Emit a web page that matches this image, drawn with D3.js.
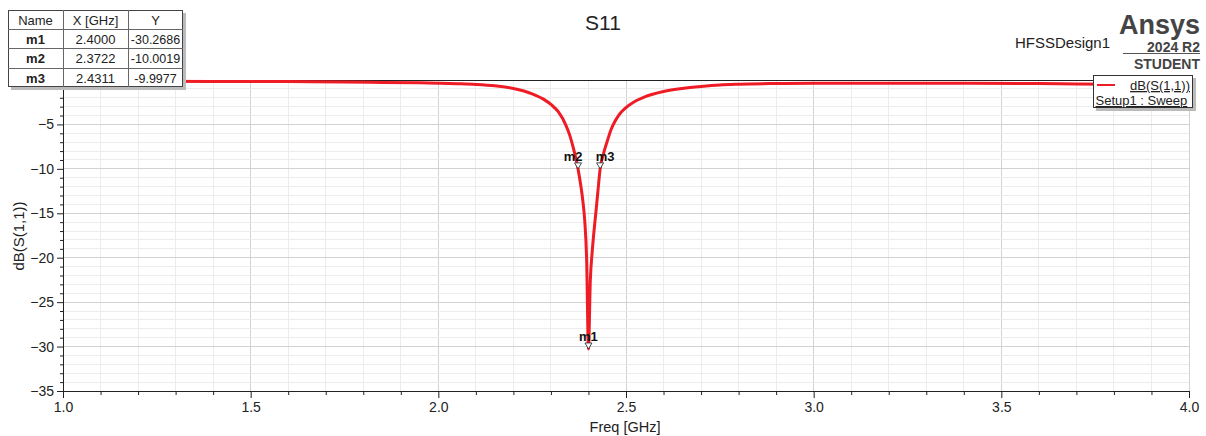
<!DOCTYPE html>
<html><head><meta charset="utf-8">
<script src="https://cdn.jsdelivr.net/npm/d3@7"></script>
<style>
html,body{margin:0;padding:0;background:#fff;}
svg{display:block;font-family:Arial,"Liberation Sans",sans-serif;}
</style></head>
<body><svg id="c" width="1206" height="436"></svg>
<script>
// ---- data ----
const freq = [1.0,1.2,1.4,1.6,1.75,1.85,1.95,2.0,2.05,2.1,2.15,2.2,2.25,2.28,2.3,2.32,2.34,2.35,2.36,2.3722,2.38,2.385,2.39,2.395,2.4,2.405,2.41,2.415,2.42,2.425,2.4311,2.44,2.45,2.46,2.47,2.48,2.5,2.52,2.55,2.6,2.65,2.7,2.75,2.8,2.9,3.0,3.2,3.4,3.6,3.7,3.8,4.0];
const s11 = [-0.15,-0.15,-0.16,-0.18,-0.22,-0.27,-0.32,-0.36,-0.42,-0.50,-0.65,-0.95,-1.55,-2.15,-2.75,-3.6,-5.1,-6.2,-7.7,-10.0019,-12.0,-13.6,-15.8,-20.0,-30.2686,-22.5,-19.3,-16.9,-14.8,-12.6,-9.9977,-8.3,-6.9,-5.6,-4.7,-4.0,-3.1,-2.5,-1.9,-1.3,-0.95,-0.72,-0.55,-0.47,-0.40,-0.37,-0.36,-0.37,-0.40,-0.45,-0.48,-0.50];
const markerNames = ["m1","m2","m3"];
const markerX = [2.4000,2.3722,2.4311];
const markerY = [-30.2686,-10.0019,-9.9977];
const xTicks = [1.0,1.5,2.0,2.5,3.0,3.5,4.0];
const yTicks = [0,-5,-10,-15,-20,-25,-30,-35];

const FONT = "Arial,'Liberation Sans',sans-serif";
const svg = d3.select("#c");
const L=63,R=1189,T=80,B=391;
const x = d3.scaleLinear().domain([1,4]).range([L,R]);
const y = d3.scaleLinear().domain([-35,0]).range([B,T]);

// grid
const g = svg.append("g");
const minorX = d3.range(1.1,4.0,0.1).map(v=>+v.toFixed(1));
const minorY = d3.range(-34,0,1);
g.selectAll(".mx").data(minorX).enter().append("line")
  .attr("x1",d=>x(d)).attr("x2",d=>x(d)).attr("y1",T).attr("y2",B)
  .attr("stroke",d=>xTicks.includes(d)?"#d2d2d2":"#ececec").attr("stroke-width",1)
  .attr("shape-rendering","crispEdges");
g.selectAll(".my").data(minorY).enter().append("line")
  .attr("x1",L).attr("x2",R).attr("y1",d=>y(d)).attr("y2",d=>y(d))
  .attr("stroke",d=>yTicks.includes(d)?"#d2d2d2":"#ececec").attr("stroke-width",1)
  .attr("shape-rendering","crispEdges");
g.append("line").attr("x1",R).attr("x2",R).attr("y1",T).attr("y2",B).attr("stroke","#d2d2d2").attr("shape-rendering","crispEdges");
g.append("line").attr("x1",L).attr("x2",R).attr("y1",T).attr("y2",T).attr("stroke","#222").attr("shape-rendering","crispEdges");

// axes
const xAxis = d3.axisBottom(x).tickValues(xTicks).tickFormat(d3.format(".1f")).tickSize(7).tickPadding(4);
const xg = svg.append("g").attr("transform",`translate(0,${B})`).call(xAxis);
xg.select(".domain").attr("stroke","#222");
xg.selectAll("text").attr("font-size",14).attr("fill","#222").attr("font-family",FONT);
const xm = d3.axisBottom(x).tickValues(minorX.filter(v=>!xTicks.includes(v))).tickSize(4).tickFormat("");
svg.append("g").attr("transform",`translate(0,${B})`).call(xm).select(".domain").remove();

const yAxis = d3.axisLeft(y).tickValues(yTicks).tickFormat(d3.format("d")).tickSize(6).tickPadding(3);
const yg = svg.append("g").attr("transform",`translate(${L},0)`).call(yAxis);
yg.select(".domain").attr("stroke","#222");
yg.selectAll("text").attr("font-size",14).attr("fill","#222").attr("font-family",FONT);
const ym = d3.axisLeft(y).tickValues(minorY.filter(v=>!yTicks.includes(v))).tickSize(3).tickFormat("");
svg.append("g").attr("transform",`translate(${L},0)`).call(ym).select(".domain").remove();
svg.selectAll(".tick line").attr("stroke","#222");

// labels
svg.append("text").attr("x",625).attr("y",432).attr("text-anchor","middle").attr("font-size",14.5).attr("fill","#222").text("Freq [GHz]");
svg.append("text").attr("transform","translate(24,236) rotate(-90)").attr("text-anchor","middle").attr("font-size",15).attr("fill","#222").text("dB(S(1,1))");
svg.append("text").attr("x",603).attr("y",30).attr("text-anchor","middle").attr("font-size",21).attr("fill","#222").text("S11");
svg.append("text").attr("x",1110).attr("y",48).attr("text-anchor","end").attr("font-size",15).attr("fill","#222").text("HFSSDesign1");
svg.append("text").attr("x",1200).attr("y",34).attr("text-anchor","end").attr("font-size",27).attr("font-weight","bold").attr("fill","#444").text("Ansys");
svg.append("text").attr("x",1200).attr("y",51.5).attr("text-anchor","end").attr("font-size",14).attr("font-weight","bold").attr("fill","#444").text("2024 R2");
svg.append("line").attr("x1",1123).attr("x2",1200).attr("y1",53.5).attr("y2",53.5).attr("stroke","#555");
svg.append("text").attr("x",1200).attr("y",69).attr("text-anchor","end").attr("font-size",14).attr("font-weight","bold").attr("fill","#444").text("STUDENT");

// curve
const pts = freq.map((f,i)=>[f,s11[i]]);
svg.append("path").datum(pts)
  .attr("d",d3.line().x(d=>x(d[0])).y(d=>y(d[1])).curve(d3.curveMonotoneX))
  .attr("fill","none").attr("stroke","#ee1c25").attr("stroke-width",3).attr("stroke-linejoin","round");

// markers
markerNames.forEach((n,i)=>{
  const px=x(markerX[i]), py=y(markerY[i]);
  svg.append("path").attr("d",`M${px-3.5},${py-6}L${px+3.5},${py-6}L${px},${py}Z`)
    .attr("fill","#fff").attr("stroke","#222").attr("stroke-width",0.8);
  const dx = n==="m2"?-5:(n==="m3"?5:0);
  svg.append("text").attr("x",px+dx).attr("y",py-8).attr("text-anchor","middle")
    .attr("font-size",13).attr("font-weight","bold").attr("fill","#111").text(n);
});

// legend
const lg = svg.append("g");
lg.append("rect").attr("x",1096).attr("y",78).attr("width",100).attr("height",33).attr("fill","#bbb");
lg.append("rect").attr("x",1093.5).attr("y",75.5).attr("width",99).attr("height",32).attr("fill","#fff").attr("stroke","#333");
lg.append("line").attr("x1",1097).attr("x2",1115).attr("y1",85).attr("y2",85).attr("stroke","#ee1c25").attr("stroke-width",2);
lg.append("text").attr("x",1190).attr("y",90).attr("text-anchor","end").attr("font-size",13).attr("fill","#222").attr("text-decoration","underline").text("dB(S(1,1))");
lg.append("text").attr("x",1095.5).attr("y",105).attr("font-size",13).attr("fill","#222").attr("text-decoration","underline").text("Setup1 : Sweep");

// marker table
const tb = svg.append("g");
const cols=[8,63,128,183], rows=[10,29,48,68,87];
tb.append("rect").attr("x",11).attr("y",13).attr("width",175).attr("height",77).attr("fill","#bbb");
tb.append("rect").attr("x",8.5).attr("y",10.5).attr("width",174).attr("height",76).attr("fill","#fff").attr("stroke","#444");
cols.slice(1,3).forEach(c=>tb.append("line").attr("x1",c+0.5).attr("x2",c+0.5).attr("y1",10).attr("y2",87).attr("stroke","#666"));
rows.slice(1,4).forEach(r=>tb.append("line").attr("x1",8).attr("x2",183).attr("y1",r+0.5).attr("y2",r+0.5).attr("stroke","#666"));
const header=["Name","X [GHz]","Y"];
header.forEach((h,j)=>tb.append("text").attr("x",(cols[j]+cols[j+1])/2).attr("y",24.5).attr("text-anchor","middle").attr("font-size",13).attr("fill","#222").text(h));
markerNames.forEach((n,i)=>{
  const ty=(rows[i+1]+rows[i+2])/2+5;
  tb.append("text").attr("x",(cols[0]+cols[1])/2).attr("y",ty).attr("text-anchor","middle").attr("font-size",13).attr("font-weight","bold").attr("fill","#222").text(n);
  tb.append("text").attr("x",(cols[1]+cols[2])/2).attr("y",ty).attr("text-anchor","middle").attr("font-size",13).attr("fill","#222").text(markerX[i].toFixed(4));
  tb.append("text").attr("x",(cols[2]+cols[3])/2).attr("y",ty).attr("text-anchor","middle").attr("font-size",12.5).attr("fill","#222").text(markerY[i].toFixed(4));
});
</script></body></html>
